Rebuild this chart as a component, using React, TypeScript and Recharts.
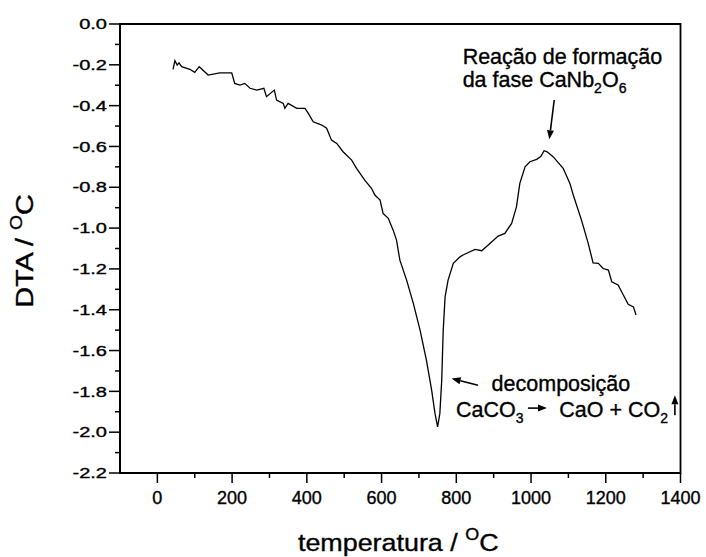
import React from "react";
import {
  LineChart,
  Line,
  XAxis,
  YAxis,
  ReferenceArea,
  ReferenceDot,
  ReferenceLine,
} from "recharts";

// ─── Dados ───────────────────────────────────────────────────────────────────

const temperatures = [
  42, 47, 53, 58, 65, 87, 100, 112, 136, 167, 199, 207, 221, 234, 248, 266,
  285, 292, 313, 319, 337, 341, 350, 373, 395, 404, 417, 440, 453, 466, 480,
  497, 520, 533, 555, 573, 582, 596, 604, 618, 631, 640, 649, 667, 685, 703,
  720, 734, 743, 750, 756, 761, 765, 770, 778, 792, 810, 818, 850, 868, 890,
  912, 930, 948, 961, 970, 984, 997, 1015, 1026, 1035, 1043, 1059, 1086, 1104,
  1113, 1135, 1153, 1166, 1180, 1193, 1207, 1216, 1233, 1247, 1260, 1274, 1281,
];

const dtaValues = [
  -0.222, -0.18, -0.201, -0.19, -0.209, -0.222, -0.237, -0.209, -0.25, -0.239,
  -0.239, -0.291, -0.299, -0.291, -0.315, -0.324, -0.315, -0.356, -0.324,
  -0.373, -0.389, -0.413, -0.389, -0.413, -0.413, -0.438, -0.479, -0.495,
  -0.511, -0.569, -0.585, -0.626, -0.667, -0.707, -0.765, -0.805, -0.838,
  -0.863, -0.928, -0.952, -1.01, -1.059, -1.157, -1.255, -1.369, -1.5, -1.647,
  -1.794, -1.908, -1.974, -1.908, -1.745, -1.5, -1.337, -1.255, -1.173, -1.141,
  -1.132, -1.104, -1.111, -1.075, -1.039, -1.026, -0.977, -0.896, -0.781, -0.7,
  -0.675, -0.663, -0.65, -0.621, -0.626, -0.65, -0.707, -0.781, -0.838, -0.961,
  -1.075, -1.17, -1.173, -1.198, -1.206, -1.263, -1.279, -1.328, -1.373,
  -1.386, -1.426,
];

const xMajorTicks = [0, 200, 400, 600, 800, 1000, 1200, 1400];
const xMinorTicks = [-100, 100, 300, 500, 700, 900, 1100, 1300];
const yMajorTicks = [0, -0.2, -0.4, -0.6, -0.8, -1.0, -1.2, -1.4, -1.6, -1.8, -2.0, -2.2];
const yMinorTicks = [-0.1, -0.3, -0.5, -0.7, -0.9, -1.1, -1.3, -1.5, -1.7, -1.9, -2.1];

const chartData = temperatures.map((t, i) => ({ t, dta: dtaValues[i] }));
const xTicks = [...xMajorTicks, ...xMinorTicks].sort((a, b) => a - b);
const yTicks = [...yMajorTicks, ...yMinorTicks].sort((a, b) => b - a);

const FONT = "'Liberation Sans', Arial, sans-serif";
// traço leve para o texto ficar tão escuro quanto o da figura original
const INK = { fill: "#000", stroke: "#000", strokeWidth: 0.35 };

// ─── Ticks ───────────────────────────────────────────────────────────────────

function XTick({ x, y, payload }: any) {
  const v = payload.value;
  const major = xMajorTicks.includes(v);
  return (
    <g>
      {v !== -100 && (
        <line x1={x} x2={x} y1={y} y2={y + (major ? 10 : 5)} stroke="#000" strokeWidth={1.5} />
      )}
      {major && (
        <text x={x} y={y + 31} textAnchor="middle" fontSize={18} fontFamily={FONT} {...INK}>
          {v}
        </text>
      )}
    </g>
  );
}

function YTick({ x, y, payload }: any) {
  const v = payload.value;
  const major = Math.abs(Math.round(v * 10)) % 2 === 0;
  return (
    <g>
      <line x1={x} x2={x - (major ? 11 : 5)} y1={y} y2={y} stroke="#000" strokeWidth={1.5} />
      {major && (
        <text
          transform={`translate(${x - 13},${y}) scale(1.38,1)`}
          textAnchor="end"
          dy="0.36em"
          fontSize={14.5}
          fontFamily={FONT}
          {...INK}
        >
          {v.toFixed(1)}
        </text>
      )}
    </g>
  );
}

// ─── Anotações ───────────────────────────────────────────────────────────────

const arrowShape = (p: any) => {
  const { x1, y1, x2, y2 } = p;
  const ang = Math.atan2(y2 - y1, x2 - x1);
  const L = 9;
  const W = 3.5;
  const bx = x2 - L * Math.cos(ang);
  const by = y2 - L * Math.sin(ang);
  const px = -Math.sin(ang) * W;
  const py = Math.cos(ang) * W;
  return (
    <g>
      <line x1={x1} y1={y1} x2={bx} y2={by} stroke="#000" strokeWidth={1.6} />
      <polygon points={`${x2},${y2} ${bx + px},${by + py} ${bx - px},${by - py}`} fill="#000" />
    </g>
  );
};

const textShape = (render: (cx: number, cy: number) => React.ReactElement) => (p: any) =>
  render(p.cx, p.cy);

const ANN = 21.5;
const SUB = 14;

export default function App() {
  return (
    <div style={{ position: "absolute", left: 0, top: 0, background: "#fff" }}>
      <LineChart
        width={706}
        height={557}
        data={chartData}
        margin={{ top: 24, right: 25.5, left: 0, bottom: 0 }}
      >
        <XAxis
          dataKey="t"
          type="number"
          domain={[-100, 1400]}
          ticks={xTicks}
          interval={0}
          height={84}
          tickSize={0}
          tickMargin={0}
          tickLine={false}
          tick={<XTick />}
          axisLine={{ stroke: "#000", strokeWidth: 2 }}
          label={{
            content: (props: any) => {
              const vb = props.viewBox;
              const cx = vb.x + vb.width / 2 - 2;
              return (
                <text
                  transform={`translate(${cx},${vb.y + 78}) scale(1.12,1)`}
                  textAnchor="middle"
                  fontSize={24}
                  fontFamily={FONT}
                  {...INK}
                >
                  <tspan>temperatura / </tspan>
                  <tspan dy={-11} fontSize={16}>O</tspan>
                  <tspan dy={11}>C</tspan>
                </text>
              );
            },
          }}
        />
        <YAxis
          type="number"
          domain={[-2.2, 0]}
          ticks={yTicks}
          interval={0}
          width={120}
          tickSize={0}
          tickMargin={0}
          tickLine={false}
          tick={<YTick />}
          axisLine={{ stroke: "#000", strokeWidth: 2 }}
          label={{
            content: () => (
              <text
                transform="translate(33,251) rotate(-90) scale(1.2,1)"
                textAnchor="middle"
                fontSize={24}
                fontFamily={FONT}
                {...INK}
              >
                <tspan>DTA / </tspan>
                <tspan dy={-11} fontSize={16}>O</tspan>
                <tspan dy={11}>C</tspan>
              </text>
            ),
          }}
        />
        <ReferenceArea
          x1={-100}
          x2={1400}
          y1={-2.2}
          y2={0}
          fill="none"
          stroke="#000"
          strokeWidth={1.8}
        />
        <Line
          type="linear"
          dataKey="dta"
          stroke="#000"
          strokeWidth={1.3}
          dot={false}
          isAnimationActive={false}
        />

        {/* Reação de formação */}
        <ReferenceDot
          x={817}
          y={-0.1975}
          r={0}
          shape={textShape((cx, cy) => (
            <text fontSize={ANN} fontFamily={FONT} {...INK}>
              <tspan x={cx} y={cy}>Reação de formação</tspan>
              <tspan x={cx} y={cy + 22.4}>da fase CaNb</tspan>
              <tspan dy={6} fontSize={SUB}>2</tspan>
              <tspan dy={-6}>O</tspan>
              <tspan dy={6} fontSize={SUB}>6</tspan>
            </text>
          ))}
        />
        <ReferenceLine
          segment={[
            { x: 1062, y: -0.3725 },
            { x: 1049, y: -0.565 },
          ]}
          shape={arrowShape}
        />

        {/* Decomposição */}
        <ReferenceLine
          segment={[
            { x: 858, y: -1.77 },
            { x: 787.5, y: -1.737 },
          ]}
          shape={arrowShape}
        />
        <ReferenceDot
          x={894.5}
          y={-1.797}
          r={0}
          shape={textShape((cx, cy) => (
            <text x={cx} y={cy} fontSize={ANN} fontFamily={FONT} {...INK}>
              decomposição
            </text>
          ))}
        />
        <ReferenceDot
          x={799}
          y={-1.928}
          r={0}
          shape={textShape((cx, cy) => (
            <text x={cx} y={cy} fontSize={ANN} fontFamily={FONT} {...INK}>
              <tspan>CaCO</tspan>
              <tspan dy={6} fontSize={SUB}>3</tspan>
            </text>
          ))}
        />
        <ReferenceLine
          segment={[
            { x: 991.7, y: -1.882 },
            { x: 1042.6, y: -1.882 },
          ]}
          shape={arrowShape}
        />
        <ReferenceDot
          x={1075.5}
          y={-1.928}
          r={0}
          shape={textShape((cx, cy) => (
            <text x={cx} y={cy} fontSize={ANN} fontFamily={FONT} {...INK}>
              <tspan>CaO + CO</tspan>
              <tspan dy={6} fontSize={SUB}>2</tspan>
            </text>
          ))}
        />
        <ReferenceLine
          segment={[
            { x: 1385, y: -1.9167 },
            { x: 1385, y: -1.8186 },
          ]}
          shape={arrowShape}
        />
      </LineChart>
    </div>
  );
}
